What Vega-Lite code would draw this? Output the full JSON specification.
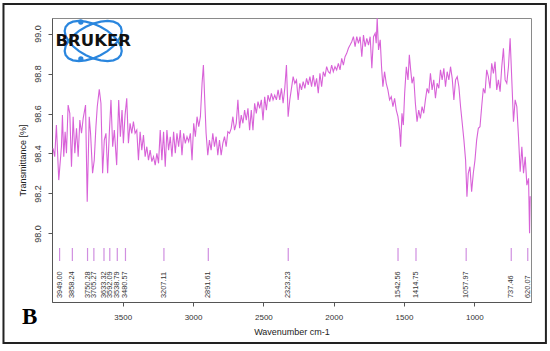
{
  "$schema": "https://vega.github.io/schema/vega-lite/v6.json",
  "width": 479,
  "height": 284,
  "autosize": {"type": "none"},
  "padding": {"left": 52, "top": 18, "right": 19, "bottom": 49},
  "background": "white",
  "config": {
    "view": {"stroke": "#8a8a8a", "strokeWidth": 1},
    "font": "Liberation Sans"
  },
  "title": {
    "text": "B",
    "orient": "bottom",
    "anchor": "start",
    "frame": "group",
    "font": "Liberation Serif",
    "fontWeight": "bold",
    "fontSize": 23,
    "color": "#000000",
    "dx": -30,
    "offset": -38
  },
  "datasets": {
    "spectrum": [
      {"wn": 3995.5, "t": 98.426}, {"wn": 3983.6, "t": 98.384}, {"wn": 3971.7, "t": 98.542}, {"wn": 3955.0, "t": 98.267},
      {"wn": 3935.9, "t": 98.434}, {"wn": 3928.8, "t": 98.592}, {"wn": 3919.3, "t": 98.384}, {"wn": 3909.7, "t": 98.509},
      {"wn": 3900.2, "t": 98.401}, {"wn": 3888.3, "t": 98.642}, {"wn": 3876.4, "t": 98.601}, {"wn": 3864.5, "t": 98.334},
      {"wn": 3852.6, "t": 98.584}, {"wn": 3840.7, "t": 98.401}, {"wn": 3828.8, "t": 98.526}, {"wn": 3816.9, "t": 98.384},
      {"wn": 3805.0, "t": 98.567}, {"wn": 3793.1, "t": 98.501}, {"wn": 3781.2, "t": 98.576}, {"wn": 3764.5, "t": 98.642},
      {"wn": 3752.6, "t": 98.159}, {"wn": 3738.3, "t": 98.584}, {"wn": 3728.8, "t": 98.501}, {"wn": 3714.5, "t": 98.301},
      {"wn": 3702.6, "t": 98.367}, {"wn": 3690.7, "t": 98.534}, {"wn": 3681.2, "t": 98.634}, {"wn": 3666.9, "t": 98.721},
      {"wn": 3655.0, "t": 98.651}, {"wn": 3643.1, "t": 98.301}, {"wn": 3631.2, "t": 98.467}, {"wn": 3619.3, "t": 98.501},
      {"wn": 3607.4, "t": 98.301}, {"wn": 3595.5, "t": 98.501}, {"wn": 3583.6, "t": 98.668}, {"wn": 3571.6, "t": 98.434},
      {"wn": 3559.7, "t": 98.517}, {"wn": 3543.1, "t": 98.342}, {"wn": 3528.8, "t": 98.668}, {"wn": 3516.9, "t": 98.484},
      {"wn": 3505.0, "t": 98.617}, {"wn": 3495.4, "t": 98.451}, {"wn": 3483.5, "t": 98.592}, {"wn": 3471.6, "t": 98.676},
      {"wn": 3459.7, "t": 98.451}, {"wn": 3447.8, "t": 98.551}, {"wn": 3435.9, "t": 98.501}, {"wn": 3424.0, "t": 98.559},
      {"wn": 3412.1, "t": 98.501}, {"wn": 3400.2, "t": 98.517}, {"wn": 3388.3, "t": 98.367}, {"wn": 3376.4, "t": 98.509},
      {"wn": 3364.5, "t": 98.417}, {"wn": 3352.6, "t": 98.492}, {"wn": 3340.7, "t": 98.384}, {"wn": 3328.8, "t": 98.434},
      {"wn": 3316.9, "t": 98.367}, {"wn": 3305.0, "t": 98.417}, {"wn": 3293.1, "t": 98.359}, {"wn": 3281.2, "t": 98.384},
      {"wn": 3269.3, "t": 98.342}, {"wn": 3257.3, "t": 98.401}, {"wn": 3245.4, "t": 98.351}, {"wn": 3233.5, "t": 98.517},
      {"wn": 3221.6, "t": 98.367}, {"wn": 3209.7, "t": 98.509}, {"wn": 3197.8, "t": 98.334}, {"wn": 3185.9, "t": 98.517},
      {"wn": 3174.0, "t": 98.417}, {"wn": 3162.1, "t": 98.484}, {"wn": 3150.2, "t": 98.384}, {"wn": 3138.3, "t": 98.509},
      {"wn": 3126.4, "t": 98.401}, {"wn": 3114.5, "t": 98.501}, {"wn": 3102.6, "t": 98.434}, {"wn": 3090.7, "t": 98.517},
      {"wn": 3078.8, "t": 98.392}, {"wn": 3066.9, "t": 98.501}, {"wn": 3055.0, "t": 98.451}, {"wn": 3043.1, "t": 98.484},
      {"wn": 3031.2, "t": 98.459}, {"wn": 3019.2, "t": 98.501}, {"wn": 3007.3, "t": 98.367}, {"wn": 2995.4, "t": 98.551},
      {"wn": 2983.5, "t": 98.484}, {"wn": 2971.6, "t": 98.584}, {"wn": 2959.7, "t": 98.534}, {"wn": 2947.8, "t": 98.584},
      {"wn": 2935.9, "t": 98.751}, {"wn": 2926.4, "t": 98.842}, {"wn": 2916.9, "t": 98.668}, {"wn": 2907.3, "t": 98.501},
      {"wn": 2895.4, "t": 98.392}, {"wn": 2883.5, "t": 98.467}, {"wn": 2871.6, "t": 98.417}, {"wn": 2859.7, "t": 98.501},
      {"wn": 2847.8, "t": 98.434}, {"wn": 2835.9, "t": 98.484}, {"wn": 2824.0, "t": 98.392}, {"wn": 2812.1, "t": 98.467},
      {"wn": 2800.2, "t": 98.392}, {"wn": 2788.3, "t": 98.451}, {"wn": 2776.4, "t": 98.484}, {"wn": 2764.5, "t": 98.434},
      {"wn": 2752.6, "t": 98.509}, {"wn": 2740.7, "t": 98.501}, {"wn": 2728.8, "t": 98.526}, {"wn": 2716.9, "t": 98.584},
      {"wn": 2705.0, "t": 98.517}, {"wn": 2693.1, "t": 98.551}, {"wn": 2681.1, "t": 98.668}, {"wn": 2669.2, "t": 98.526},
      {"wn": 2657.3, "t": 98.592}, {"wn": 2645.4, "t": 98.551}, {"wn": 2633.5, "t": 98.617}, {"wn": 2621.6, "t": 98.567},
      {"wn": 2609.7, "t": 98.626}, {"wn": 2597.8, "t": 98.517}, {"wn": 2585.9, "t": 98.617}, {"wn": 2574.0, "t": 98.517},
      {"wn": 2562.1, "t": 98.651}, {"wn": 2550.2, "t": 98.601}, {"wn": 2538.3, "t": 98.659}, {"wn": 2526.4, "t": 98.626},
      {"wn": 2514.5, "t": 98.668}, {"wn": 2502.6, "t": 98.567}, {"wn": 2490.7, "t": 98.684}, {"wn": 2478.8, "t": 98.617},
      {"wn": 2466.9, "t": 98.692}, {"wn": 2455.0, "t": 98.659}, {"wn": 2443.0, "t": 98.701}, {"wn": 2431.1, "t": 98.668},
      {"wn": 2419.2, "t": 98.692}, {"wn": 2407.3, "t": 98.668}, {"wn": 2395.4, "t": 98.718}, {"wn": 2383.5, "t": 98.668},
      {"wn": 2371.6, "t": 98.726}, {"wn": 2359.7, "t": 98.651}, {"wn": 2347.8, "t": 98.726}, {"wn": 2335.9, "t": 98.842},
      {"wn": 2324.0, "t": 98.584}, {"wn": 2312.1, "t": 98.668}, {"wn": 2300.2, "t": 98.726}, {"wn": 2288.3, "t": 98.784},
      {"wn": 2276.4, "t": 98.751}, {"wn": 2264.5, "t": 98.768}, {"wn": 2252.6, "t": 98.668}, {"wn": 2240.7, "t": 98.751},
      {"wn": 2228.8, "t": 98.718}, {"wn": 2216.9, "t": 98.759}, {"wn": 2204.9, "t": 98.726}, {"wn": 2193.0, "t": 98.776},
      {"wn": 2181.1, "t": 98.743}, {"wn": 2169.2, "t": 98.784}, {"wn": 2157.3, "t": 98.734}, {"wn": 2145.4, "t": 98.792},
      {"wn": 2133.5, "t": 98.734}, {"wn": 2121.6, "t": 98.776}, {"wn": 2109.7, "t": 98.701}, {"wn": 2097.8, "t": 98.801},
      {"wn": 2085.9, "t": 98.734}, {"wn": 2074.0, "t": 98.809}, {"wn": 2062.1, "t": 98.784}, {"wn": 2050.2, "t": 98.834},
      {"wn": 2038.3, "t": 98.809}, {"wn": 2026.4, "t": 98.801}, {"wn": 2014.5, "t": 98.842}, {"wn": 2002.6, "t": 98.809},
      {"wn": 1990.7, "t": 98.834}, {"wn": 1978.8, "t": 98.818}, {"wn": 1966.8, "t": 98.851}, {"wn": 1954.9, "t": 98.818},
      {"wn": 1943.0, "t": 98.876}, {"wn": 1931.1, "t": 98.842}, {"wn": 1919.2, "t": 98.884}, {"wn": 1907.3, "t": 98.901},
      {"wn": 1895.4, "t": 98.926}, {"wn": 1883.5, "t": 98.942}, {"wn": 1871.6, "t": 98.959}, {"wn": 1859.7, "t": 98.984},
      {"wn": 1847.8, "t": 98.934}, {"wn": 1835.9, "t": 98.984}, {"wn": 1824.0, "t": 98.951}, {"wn": 1812.1, "t": 98.984},
      {"wn": 1800.2, "t": 98.884}, {"wn": 1788.3, "t": 98.992}, {"wn": 1776.4, "t": 98.934}, {"wn": 1764.5, "t": 98.976},
      {"wn": 1752.6, "t": 98.942}, {"wn": 1740.7, "t": 98.984}, {"wn": 1728.7, "t": 98.826}, {"wn": 1716.8, "t": 98.984},
      {"wn": 1704.9, "t": 99.001}, {"wn": 1697.8, "t": 98.951}, {"wn": 1690.7, "t": 99.076}, {"wn": 1681.1, "t": 98.918},
      {"wn": 1669.2, "t": 98.968}, {"wn": 1659.7, "t": 98.834}, {"wn": 1650.2, "t": 98.734}, {"wn": 1638.3, "t": 98.809},
      {"wn": 1626.4, "t": 98.751}, {"wn": 1614.5, "t": 98.718}, {"wn": 1602.6, "t": 98.668}, {"wn": 1590.7, "t": 98.684},
      {"wn": 1578.7, "t": 98.634}, {"wn": 1566.8, "t": 98.676}, {"wn": 1554.9, "t": 98.617}, {"wn": 1543.0, "t": 98.584},
      {"wn": 1531.1, "t": 98.517}, {"wn": 1524.0, "t": 98.434}, {"wn": 1514.5, "t": 98.601}, {"wn": 1504.9, "t": 98.542},
      {"wn": 1495.4, "t": 98.701}, {"wn": 1483.5, "t": 98.834}, {"wn": 1471.6, "t": 98.768}, {"wn": 1462.1, "t": 98.893},
      {"wn": 1452.6, "t": 98.818}, {"wn": 1443.0, "t": 98.751}, {"wn": 1431.1, "t": 98.784}, {"wn": 1419.2, "t": 98.651},
      {"wn": 1407.3, "t": 98.559}, {"wn": 1395.4, "t": 98.617}, {"wn": 1383.5, "t": 98.576}, {"wn": 1371.6, "t": 98.634},
      {"wn": 1359.7, "t": 98.601}, {"wn": 1347.8, "t": 98.668}, {"wn": 1335.9, "t": 98.726}, {"wn": 1324.0, "t": 98.701},
      {"wn": 1312.1, "t": 98.801}, {"wn": 1300.2, "t": 98.718}, {"wn": 1288.3, "t": 98.768}, {"wn": 1276.4, "t": 98.676},
      {"wn": 1264.5, "t": 98.751}, {"wn": 1252.5, "t": 98.726}, {"wn": 1240.6, "t": 98.818}, {"wn": 1228.7, "t": 98.768},
      {"wn": 1216.8, "t": 98.826}, {"wn": 1204.9, "t": 98.734}, {"wn": 1193.0, "t": 98.809}, {"wn": 1181.1, "t": 98.768},
      {"wn": 1169.2, "t": 98.834}, {"wn": 1157.3, "t": 98.776}, {"wn": 1145.4, "t": 98.668}, {"wn": 1133.5, "t": 98.768},
      {"wn": 1121.6, "t": 98.784}, {"wn": 1109.7, "t": 98.734}, {"wn": 1097.8, "t": 98.634}, {"wn": 1085.9, "t": 98.551},
      {"wn": 1074.0, "t": 98.467}, {"wn": 1062.1, "t": 98.367}, {"wn": 1052.5, "t": 98.184}, {"wn": 1043.0, "t": 98.301},
      {"wn": 1031.1, "t": 98.334}, {"wn": 1019.2, "t": 98.209}, {"wn": 1007.3, "t": 98.301}, {"wn": 995.4, "t": 98.367},
      {"wn": 983.5, "t": 98.467}, {"wn": 971.6, "t": 98.526}, {"wn": 959.7, "t": 98.534}, {"wn": 947.8, "t": 98.634},
      {"wn": 935.9, "t": 98.726}, {"wn": 924.0, "t": 98.701}, {"wn": 912.1, "t": 98.818}, {"wn": 900.2, "t": 98.784},
      {"wn": 888.3, "t": 98.726}, {"wn": 876.3, "t": 98.851}, {"wn": 864.4, "t": 98.801}, {"wn": 852.5, "t": 98.859},
      {"wn": 840.6, "t": 98.718}, {"wn": 828.7, "t": 98.768}, {"wn": 816.8, "t": 98.709}, {"wn": 804.9, "t": 98.834},
      {"wn": 793.0, "t": 98.926}, {"wn": 781.1, "t": 98.768}, {"wn": 769.2, "t": 98.751}, {"wn": 757.3, "t": 98.834},
      {"wn": 745.4, "t": 98.976}, {"wn": 733.5, "t": 98.768}, {"wn": 721.6, "t": 98.559}, {"wn": 709.7, "t": 98.668},
      {"wn": 697.8, "t": 98.634}, {"wn": 685.9, "t": 98.484}, {"wn": 674.0, "t": 98.309}, {"wn": 662.1, "t": 98.434},
      {"wn": 650.2, "t": 98.301}, {"wn": 638.3, "t": 98.384}, {"wn": 626.4, "t": 98.242}, {"wn": 614.4, "t": 98.276},
      {"wn": 607.3, "t": 98.001}, {"wn": 603.0, "t": 98.184}, {"wn": 599.0, "t": 98.184}
    ],
    "peaks": [
      {"wn": 3949.00, "label": "3949.00"}, {"wn": 3858.24, "label": "3858.24"}, {"wn": 3750.28, "label": "3750.28"},
      {"wn": 3705.27, "label": "3705.27"}, {"wn": 3633.32, "label": "3633.32"}, {"wn": 3592.09, "label": "3592.09"},
      {"wn": 3538.79, "label": "3538.79"}, {"wn": 3480.57, "label": "3480.57"}, {"wn": 3207.11, "label": "3207.11"},
      {"wn": 2891.61, "label": "2891.61"}, {"wn": 2323.23, "label": "2323.23"}, {"wn": 1542.56, "label": "1542.56"},
      {"wn": 1414.75, "label": "1414.75"}, {"wn": 1057.97, "label": "1057.97"}, {"wn": 737.46, "label": "737.46"},
      {"wn": 620.07, "label": "620.07"}
    ],
    "logo": [{"wn": 3710, "t": 98.9625, "name": "BRUKER"}],
    "logoDots": [{"wn": 3798, "t": 99.0575}, {"wn": 3798, "t": 98.8725}]
  },
  "layer": [
    {
      "data": {"name": "logo"},
      "mark": {"type": "point", "shape": "M 0.891 0.454 L 0.800 0.558 L 0.654 0.623 L 0.464 0.646 L 0.243 0.625 L 0.005 0.562 L -0.234 0.460 L -0.457 0.327 L -0.648 0.171 L -0.796 0.004 L -0.889 -0.163 L -0.921 -0.320 L -0.891 -0.454 L -0.800 -0.558 L -0.654 -0.623 L -0.464 -0.646 L -0.243 -0.625 L -0.005 -0.562 L 0.234 -0.460 L 0.457 -0.327 L 0.648 -0.171 L 0.796 -0.004 L 0.889 0.163 L 0.921 0.320 Z", "size": 3844, "filled": false, "stroke": "#2a86de", "strokeWidth": 2.2, "opacity": 1},
      "encoding": {
        "x": {"field": "wn", "type": "quantitative", "scale": {"domain": [4003, 597], "zero": false, "nice": false}},
        "y": {"field": "t", "type": "quantitative", "scale": {"domain": [97.6575, 99.0775], "zero": false, "nice": false}}
      }
    },
    {
      "data": {"name": "logo"},
      "mark": {"type": "point", "shape": "M -0.891 0.454 L -0.800 0.558 L -0.654 0.623 L -0.464 0.646 L -0.243 0.625 L -0.005 0.562 L 0.234 0.460 L 0.457 0.327 L 0.648 0.171 L 0.796 0.004 L 0.889 -0.163 L 0.921 -0.320 L 0.891 -0.454 L 0.800 -0.558 L 0.654 -0.623 L 0.464 -0.646 L 0.243 -0.625 L 0.005 -0.562 L -0.234 -0.460 L -0.457 -0.327 L -0.648 -0.171 L -0.796 -0.004 L -0.889 0.163 L -0.921 0.320 Z", "size": 3844, "filled": false, "stroke": "#2a86de", "strokeWidth": 2.2, "opacity": 1},
      "encoding": {
        "x": {"field": "wn", "type": "quantitative"},
        "y": {"field": "t", "type": "quantitative"}
      }
    },
    {
      "data": {"name": "logoDots"},
      "mark": {"type": "point", "shape": "circle", "size": 28, "filled": true, "color": "#2a86de", "opacity": 1},
      "encoding": {
        "x": {"field": "wn", "type": "quantitative"},
        "y": {"field": "t", "type": "quantitative"}
      }
    },
    {
      "data": {"name": "logo"},
      "mark": {"type": "text", "font": "DejaVu Sans", "fontWeight": "bold", "fontSize": 16.5, "color": "#111111", "align": "center", "baseline": "middle"},
      "encoding": {
        "x": {"field": "wn", "type": "quantitative"},
        "y": {"field": "t", "type": "quantitative"},
        "text": {"field": "name"}
      }
    },
    {
      "data": {"name": "spectrum"},
      "mark": {"type": "line", "color": "#d862d8", "strokeWidth": 1.1, "clip": true},
      "encoding": {
        "x": {
          "field": "wn", "type": "quantitative",
          "axis": {
            "title": "Wavenumber cm-1", "values": [3500, 3000, 2500, 2000, 1500, 1000], "format": "d",
            "grid": false, "domainColor": "#555555", "tickColor": "#555555", "tickSize": 4,
            "labelFont": "Liberation Sans", "labelFontSize": 8, "labelColor": "#333333", "labelPadding": 7,
            "titleFont": "Liberation Sans", "titleFontSize": 9, "titleFontWeight": "normal", "titleColor": "#222222", "titlePadding": 6
          }
        },
        "y": {
          "field": "t", "type": "quantitative",
          "axis": {
            "title": "Transmittance [%]", "values": [98.0, 98.2, 98.4, 98.6, 98.8, 99.0], "format": ".1f",
            "grid": false, "domainColor": "#555555", "tickColor": "#555555", "tickSize": 4,
            "labelAngle": 270, "labelAlign": "center", "labelBaseline": "bottom",
            "labelFont": "Liberation Sans", "labelFontSize": 9, "labelColor": "#333333", "labelPadding": 6,
            "titleFont": "Liberation Sans", "titleFontSize": 9, "titleFontWeight": "normal", "titleColor": "#222222", "titlePadding": 6
          }
        }
      }
    },
    {
      "data": {"name": "peaks"},
      "mark": {"type": "rule", "color": "#d08fe0", "strokeWidth": 1.2},
      "encoding": {
        "x": {"field": "wn", "type": "quantitative"},
        "y": {"datum": 97.9275},
        "y2": {"datum": 97.8625}
      }
    },
    {
      "data": {"name": "peaks"},
      "mark": {"type": "text", "angle": 270, "align": "left", "baseline": "middle", "font": "Liberation Sans", "fontSize": 7.4, "color": "#333333"},
      "encoding": {
        "x": {"field": "wn", "type": "quantitative"},
        "y": {"datum": 97.6775},
        "text": {"field": "label"}
      }
    },
    {
      "data": {"values": [{}]},
      "mark": {"type": "rect", "filled": false, "stroke": "#222222", "strokeWidth": 2, "clip": false},
      "encoding": {
        "x": {"datum": 4348},
        "x2": {"datum": 491},
        "y": {"datum": 99.1475},
        "y2": {"datum": 97.4525}
      }
    }
  ]
}
